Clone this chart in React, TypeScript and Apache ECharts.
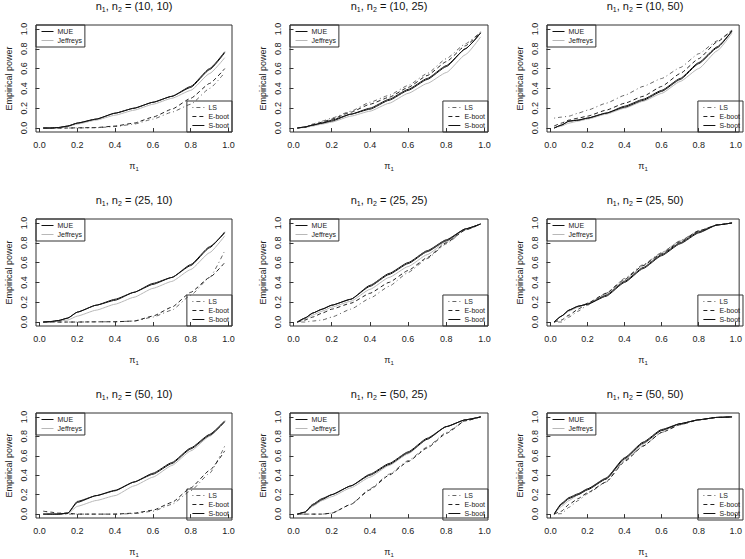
import React, { useEffect, useRef } from "react";
import * as echarts from "echarts";

const X_POINTS = [0.02, 0.06, 0.1, 0.15, 0.2, 0.3, 0.4, 0.5, 0.6, 0.7, 0.8, 0.9, 0.98];
const Y_TICKS = [0, 0.2, 0.4, 0.6, 0.8, 1.0];
const X_TICKS = [0, 0.2, 0.4, 0.6, 0.8, 1.0];
const SERIES_NAMES = ["MUE", "Jeffreys", "LS", "E-boot", "S-boot"];
const PANEL_TITLES = ["10, 10", "10, 25", "10, 50", "25, 10", "25, 25", "25, 50", "50, 10", "50, 25", "50, 50"];

// (10,10)
const P1_MUE = [0, 0, 0.005, 0.02, 0.05, 0.09, 0.15, 0.2, 0.26, 0.32, 0.42, 0.6, 0.77];
const P1_JEF = [0, 0, 0.003, 0.015, 0.04, 0.08, 0.13, 0.18, 0.24, 0.3, 0.38, 0.55, 0.71];
const P1_LS = [0, 0, 0, 0, 0.001, 0.003, 0.015, 0.04, 0.09, 0.16, 0.24, 0.4, 0.56];
const P1_EB = [0, 0, 0, 0, 0.002, 0.005, 0.02, 0.05, 0.11, 0.19, 0.3, 0.45, 0.6];
const P1_SB = [0, 0, 0.005, 0.02, 0.05, 0.09, 0.15, 0.2, 0.26, 0.32, 0.41, 0.59, 0.76];
// (10,25)
const P2_MUE = [0, 0.01, 0.03, 0.05, 0.07, 0.14, 0.2, 0.29, 0.39, 0.5, 0.63, 0.8, 0.96];
const P2_JEF = [0, 0.005, 0.02, 0.04, 0.06, 0.12, 0.17, 0.25, 0.35, 0.45, 0.56, 0.74, 0.92];
const P2_LS = [0, 0.01, 0.04, 0.07, 0.1, 0.17, 0.26, 0.33, 0.43, 0.55, 0.7, 0.85, 0.97];
const P2_EB = [0, 0.01, 0.03, 0.06, 0.09, 0.16, 0.24, 0.31, 0.41, 0.53, 0.67, 0.83, 0.97];
const P2_SB = [0, 0.01, 0.03, 0.05, 0.08, 0.14, 0.19, 0.28, 0.38, 0.49, 0.62, 0.8, 0.96];
// (10,50)
const P3_MUE = [0, 0.03, 0.07, 0.08, 0.1, 0.15, 0.22, 0.29, 0.38, 0.5, 0.66, 0.82, 0.98];
const P3_JEF = [0, 0.02, 0.05, 0.07, 0.09, 0.14, 0.2, 0.27, 0.35, 0.47, 0.6, 0.78, 0.96];
const P3_LS = [0.1, 0.11, 0.12, 0.15, 0.18, 0.25, 0.33, 0.42, 0.5, 0.61, 0.75, 0.88, 0.99];
const P3_EB = [0.02, 0.05, 0.08, 0.1, 0.12, 0.18, 0.25, 0.32, 0.42, 0.55, 0.7, 0.87, 0.99];
const P3_SB = [0, 0.03, 0.07, 0.08, 0.1, 0.15, 0.21, 0.28, 0.37, 0.49, 0.65, 0.81, 0.98];
// (25,10)
const P4_MUE = [0, 0.005, 0.015, 0.04, 0.1, 0.17, 0.23, 0.3, 0.39, 0.45, 0.57, 0.75, 0.91];
const P4_JEF = [0, 0.003, 0.01, 0.02, 0.06, 0.12, 0.18, 0.25, 0.34, 0.41, 0.53, 0.7, 0.87];
const P4_LS = [0, 0, 0, 0, 0, 0.002, 0.003, 0.01, 0.05, 0.12, 0.27, 0.45, 0.72];
const P4_EB = [0, 0, 0, 0, 0, 0.002, 0.003, 0.01, 0.06, 0.15, 0.3, 0.45, 0.6];
const P4_SB = [0, 0.005, 0.015, 0.04, 0.1, 0.17, 0.22, 0.3, 0.38, 0.45, 0.58, 0.76, 0.9];
// (25,25)
const P5_MUE = [0, 0.04, 0.09, 0.13, 0.17, 0.23, 0.37, 0.49, 0.6, 0.72, 0.83, 0.94, 0.99];
const P5_JEF = [0, 0.03, 0.07, 0.11, 0.15, 0.21, 0.33, 0.45, 0.56, 0.68, 0.81, 0.93, 0.99];
const P5_LS = [0, 0, 0.01, 0.02, 0.05, 0.13, 0.24, 0.36, 0.5, 0.64, 0.79, 0.93, 0.99];
const P5_EB = [0, 0.02, 0.05, 0.09, 0.13, 0.19, 0.29, 0.4, 0.52, 0.65, 0.8, 0.93, 0.99];
const P5_SB = [0, 0.04, 0.09, 0.13, 0.17, 0.23, 0.36, 0.48, 0.59, 0.71, 0.82, 0.94, 0.99];
// (25,50)
const P6_MUE = [0, 0.06, 0.12, 0.16, 0.18, 0.27, 0.41, 0.55, 0.68, 0.8, 0.91, 0.98, 1.0];
const P6_JEF = [0, 0.06, 0.11, 0.15, 0.19, 0.28, 0.42, 0.57, 0.7, 0.82, 0.92, 0.98, 1.0];
const P6_LS = [0, 0, 0.05, 0.11, 0.17, 0.29, 0.44, 0.58, 0.7, 0.82, 0.92, 0.98, 1.0];
const P6_EB = [0, 0.02, 0.07, 0.13, 0.19, 0.29, 0.43, 0.57, 0.69, 0.81, 0.92, 0.98, 1.0];
const P6_SB = [0, 0.06, 0.12, 0.16, 0.18, 0.26, 0.4, 0.54, 0.67, 0.79, 0.9, 0.98, 1.0];
// (50,10)
const P7_MUE = [0, 0, 0, 0.01, 0.13, 0.19, 0.245, 0.33, 0.42, 0.53, 0.68, 0.82, 0.96];
const P7_JEF = [0, 0, 0, 0.005, 0.08, 0.14, 0.19, 0.29, 0.38, 0.5, 0.65, 0.8, 0.95];
const P7_LS = [0, 0, 0, 0, 0, 0, 0, 0.005, 0.03, 0.1, 0.24, 0.42, 0.7];
const P7_EB = [0.03, 0.02, 0.01, 0.01, 0, 0, 0, 0.01, 0.04, 0.12, 0.27, 0.45, 0.65];
const P7_SB = [0, 0, 0, 0.01, 0.12, 0.19, 0.24, 0.33, 0.41, 0.52, 0.67, 0.81, 0.95];
// (50,25)
const P8_MUE = [0, 0.02, 0.1, 0.16, 0.2, 0.29, 0.41, 0.52, 0.64, 0.78, 0.9, 0.97, 1.0];
const P8_JEF = [0, 0.02, 0.08, 0.14, 0.18, 0.27, 0.38, 0.5, 0.62, 0.77, 0.9, 0.97, 1.0];
const P8_LS = [0, 0, 0, 0, 0.01, 0.1, 0.26, 0.41, 0.55, 0.69, 0.84, 0.96, 1.0];
const P8_EB = [0, 0, 0, 0, 0.01, 0.1, 0.25, 0.4, 0.54, 0.68, 0.83, 0.96, 1.0];
const P8_SB = [0, 0.02, 0.09, 0.15, 0.2, 0.29, 0.4, 0.51, 0.63, 0.77, 0.9, 0.97, 1.0];
// (50,50)
const P9_MUE = [0, 0.11, 0.17, 0.21, 0.26, 0.37, 0.58, 0.74, 0.87, 0.93, 0.97, 0.995, 1.0];
const P9_JEF = [0, 0.08, 0.14, 0.2, 0.26, 0.36, 0.56, 0.72, 0.86, 0.93, 0.97, 0.995, 1.0];
const P9_LS = [0, 0.005, 0.07, 0.14, 0.21, 0.33, 0.55, 0.7, 0.84, 0.92, 0.97, 0.995, 1.0];
const P9_EB = [0, 0.03, 0.1, 0.16, 0.22, 0.33, 0.54, 0.7, 0.84, 0.92, 0.97, 0.995, 1.0];
const P9_SB = [0, 0.1, 0.16, 0.2, 0.25, 0.36, 0.57, 0.73, 0.86, 0.93, 0.97, 0.995, 1.0];

const PANEL_DATA = [
  [P1_MUE, P1_JEF, P1_LS, P1_EB, P1_SB],
  [P2_MUE, P2_JEF, P2_LS, P2_EB, P2_SB],
  [P3_MUE, P3_JEF, P3_LS, P3_EB, P3_SB],
  [P4_MUE, P4_JEF, P4_LS, P4_EB, P4_SB],
  [P5_MUE, P5_JEF, P5_LS, P5_EB, P5_SB],
  [P6_MUE, P6_JEF, P6_LS, P6_EB, P6_SB],
  [P7_MUE, P7_JEF, P7_LS, P7_EB, P7_SB],
  [P8_MUE, P8_JEF, P8_LS, P8_EB, P8_SB],
  [P9_MUE, P9_JEF, P9_LS, P9_EB, P9_SB],
];

const FONT = "'Liberation Sans', Arial, Helvetica, sans-serif";
const COL_LEFT = [36, 290, 547];
const COL_WIDTH = [196, 198, 196];
const ROW_TOP = [25, 219, 413];
const ROW_HEIGHT = 107;
const W = 745;
const H = 559;

const STYLES = [
  { color: "#111", type: "solid" },
  { color: "#b8b8b8", type: "solid" },
  { color: "#666", type: [1, 3, 4, 3] },
  { color: "#222", type: [4, 3] },
  { color: "#111", type: "solid" },
];

export default function App() {
  const ref = useRef<HTMLDivElement>(null);
  useEffect(() => {
    if (!ref.current) return;
    const chart = echarts.init(ref.current, null, { renderer: "svg" });
    const grid: any[] = [];
    const xAxis: any[] = [];
    const yAxis: any[] = [];
    const series: any[] = [];
    const legend: any[] = [];
    const graphic: any[] = [];
    const legendCommon = {
      orient: "vertical",
      selectedMode: false,
      borderColor: "#333",
      borderWidth: 1,
      borderRadius: 0,
      padding: [3, 3, 3, 5],
      itemWidth: 12,
      itemHeight: 8,
      itemGap: 2,
      itemStyle: { opacity: 0 },
      lineStyle: { width: 1 },
      textStyle: { fontSize: 7, color: "#222", fontFamily: FONT, padding: [0, 0, 0, -1] },
    };
    for (let p = 0; p < 9; p++) {
      const r = Math.floor(p / 3);
      const c = p % 3;
      const left = COL_LEFT[c];
      const width = COL_WIDTH[c];
      const top = ROW_TOP[r];
      grid.push({
        left,
        top,
        width,
        height: ROW_HEIGHT,
        show: true,
        borderColor: "#333",
        borderWidth: 1,
        backgroundColor: "transparent",
        containLabel: false,
      });
      xAxis.push({
        type: "value",
        gridIndex: p,
        min: -0.0184,
        max: 1.0184,
        axisLine: { show: false },
        splitLine: { show: false },
        axisTick: { show: true, inside: false, length: 4, customValues: X_TICKS, lineStyle: { color: "#333" } },
        axisLabel: {
          customValues: X_TICKS,
          formatter: (v: number) => v.toFixed(1),
          fontSize: 9,
          color: "#222",
          fontFamily: FONT,
          margin: 8,
        },
        name: "{p|π}{s|1}",
        nameLocation: "middle",
        nameGap: 28,
        nameTextStyle: {
          rich: {
            p: { fontSize: 9, fontFamily: FONT, color: "#222", lineHeight: 12 },
            s: { fontSize: 6, fontFamily: FONT, color: "#222", verticalAlign: "bottom", lineHeight: 12 },
          },
        },
      });
      yAxis.push({
        type: "value",
        gridIndex: p,
        min: -0.04,
        max: 1.04,
        axisLine: { show: false },
        splitLine: { show: false },
        axisTick: { show: true, inside: false, length: 4, customValues: Y_TICKS, lineStyle: { color: "#333" } },
        axisLabel: {
          customValues: Y_TICKS,
          formatter: (v: number) => v.toFixed(1),
          fontSize: 9,
          color: "#222",
          fontFamily: FONT,
          rotate: 90,
          margin: 8,
        },
        name: "Empirical power",
        nameLocation: "middle",
        nameGap: 23,
        nameRotate: 90,
        nameTextStyle: { fontSize: 9, color: "#222", fontFamily: FONT },
      });
      PANEL_DATA[p].forEach((vals, i) => {
        series.push({
          type: "line",
          name: SERIES_NAMES[i],
          xAxisIndex: p,
          yAxisIndex: p,
          data: X_POINTS.map((x, k) => [x, vals[k]]),
          symbol: "none",
          smooth: 0.15,
          smoothMonotone: "x",
          lineStyle: { width: 1, color: STYLES[i].color, type: STYLES[i].type },
          itemStyle: { color: STYLES[i].color },
          z: i === 1 ? 2 : 3,
        });
      });
      legend.push({
        ...legendCommon,
        data: ["MUE", "Jeffreys"],
        left,
        top,
      });
      legend.push({
        ...legendCommon,
        data: ["LS", "E-boot", "S-boot"],
        right: W - (left + width),
        bottom: H - (top + ROW_HEIGHT),
      });
      graphic.push({
        type: "text",
        x: left + width / 2,
        y: top - 19,
        style: {
          text: `{a|n}{s|1}{a|, n}{s|2}{a| = (${PANEL_TITLES[p]})}`,
          align: "center",
          verticalAlign: "middle",
          rich: {
            a: { fontSize: 11, fontFamily: FONT, fill: "#111", lineHeight: 14 },
            s: { fontSize: 7, fontFamily: FONT, fill: "#111", verticalAlign: "bottom", lineHeight: 14 },
          },
        },
      });
    }
    chart.setOption({
      animation: false,
      backgroundColor: "#fff",
      grid,
      xAxis,
      yAxis,
      series,
      legend,
      graphic,
    });
    return () => chart.dispose();
  }, []);
  return <div ref={ref} style={{ position: "fixed", left: 0, top: 0, width: W, height: H }} />;
}
